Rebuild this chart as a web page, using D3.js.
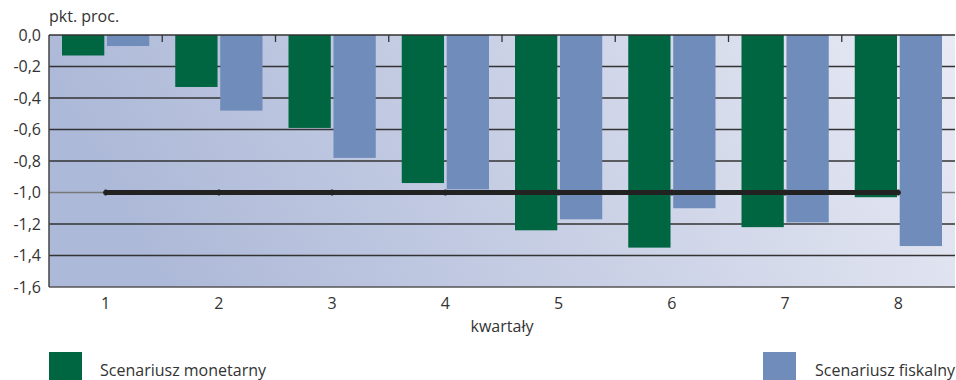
<!DOCTYPE html>
<html><head><meta charset="utf-8">
<script src="https://cdn.jsdelivr.net/npm/d3@7"></script>
<style>body{margin:0;background:#fff;} svg{display:block;font-family:"Open Sans",sans-serif;}</style>
</head><body><svg id="c" width="956" height="380"></svg>
<script>
const categories = ["1","2","3","4","5","6","7","8"];
const monetarny = [-0.13,-0.33,-0.59,-0.94,-1.24,-1.35,-1.22,-1.03];
const fiskalny  = [-0.07,-0.48,-0.78,-0.98,-1.17,-1.10,-1.19,-1.34];
const reference = [-1,-1,-1,-1,-1,-1,-1,-1];
const yTicks = [0,-0.2,-0.4,-0.6,-0.8,-1.0,-1.2,-1.4,-1.6];
const seriesNames = ["Scenariusz monetarny","Scenariusz fiskalny"];
const colors = ["#006641","#6f8cba"];

const svg = d3.select("#c");
const L=49, R=955, T=35, B=287;
const x = d3.scaleBand().domain(categories).range([L,R]).paddingInner(0).paddingOuter(0);
const x1 = d3.scaleBand().domain([0,1]).range([13, x.bandwidth()-13]).paddingInner(0.06);
const y = d3.scaleLinear().domain([-1.6,0]).range([B,T]);

const defs = svg.append("defs");
const g = defs.append("linearGradient").attr("id","bg").attr("x1","0").attr("x2","1").attr("y1","0.15").attr("y2","0");
g.append("stop").attr("offset","0").attr("stop-color","#adb9d8");
g.append("stop").attr("offset","1").attr("stop-color","#e8eaf4");
svg.append("rect").attr("x",L).attr("y",T).attr("width",R-L).attr("height",B-T).attr("fill","url(#bg)");

// gridlines
svg.append("g").selectAll("line").data(yTicks.filter(d=>d!==0 && d!==-1.6)).join("line")
  .attr("x1",L).attr("x2",R).attr("y1",d=>y(d)).attr("y2",d=>y(d))
  .attr("stroke",d=>d===-1.0?"#777":"#333").attr("stroke-width",1.3);

// bars
const series=[monetarny,fiskalny];
series.forEach((vals,si)=>{
  svg.append("g").selectAll("rect").data(vals).join("rect")
    .attr("x",(d,i)=>x(categories[i])+x1(si))
    .attr("width",x1.bandwidth())
    .attr("y",y(0))
    .attr("height",d=>y(d)-y(0))
    .attr("fill",colors[si]);
});

// axes lines
svg.append("line").attr("x1",L).attr("x2",R).attr("y1",B).attr("y2",B).attr("stroke","#555").attr("stroke-width",1.5);
svg.append("line").attr("x1",L).attr("x2",L).attr("y1",T).attr("y2",B).attr("stroke","#444").attr("stroke-width",1.5);
svg.append("line").attr("x1",L).attr("x2",R).attr("y1",T).attr("y2",T).attr("stroke","#333").attr("stroke-width",1.5);
// category boundary ticks at top
svg.append("g").selectAll("line").data(categories.slice(1)).join("line")
  .attr("x1",d=>x(d)).attr("x2",d=>x(d)).attr("y1",T).attr("y2",T+7)
  .attr("stroke","#333").attr("stroke-width",1.3);

// reference line
const line = d3.line().x((d,i)=>x(categories[i])+x.bandwidth()/2).y(d=>y(d));
svg.append("path").datum(reference).attr("d",line).attr("fill","none")
  .attr("stroke","#222").attr("stroke-width",5).attr("stroke-linecap","round");
svg.append("g").selectAll("line").data(reference).join("line")
  .attr("x1",(d,i)=>x(categories[i])+x.bandwidth()/2).attr("x2",(d,i)=>x(categories[i])+x.bandwidth()/2)
  .attr("y1",d=>y(d)-3).attr("y2",d=>y(d)+3).attr("stroke","#222").attr("stroke-width",2);

// y labels
const fmt = d=>d3.format(".1f")(d).replace(".",",").replace("−","-");
svg.append("g").selectAll("text").data(yTicks).join("text")
  .attr("x",41).attr("y",d=>y(d)).attr("dy","0.36em").attr("text-anchor","end")
  .attr("font-size",16).attr("fill","#333").text(d=>d===0?"0,0":fmt(d));
svg.append("text").attr("x",49).attr("y",22).attr("font-size",16).attr("fill","#333").text("pkt. proc.");

// x labels
svg.append("g").selectAll("text").data(categories).join("text")
  .attr("x",d=>x(d)+x.bandwidth()/2).attr("y",309).attr("text-anchor","middle")
  .attr("font-size",16).attr("fill","#333").text(d=>d);
svg.append("text").attr("x",(L+R)/2).attr("y",332).attr("text-anchor","middle")
  .attr("font-size",16).attr("fill","#333").text("kwartały");

// legend
const leg=[{x:49,tx:100},{x:763,tx:815}];
leg.forEach((l,i)=>{
  svg.append("rect").attr("x",l.x).attr("y",352).attr("width",33).attr("height",30).attr("fill",colors[i]);
  svg.append("text").attr("x",l.tx).attr("y",376).attr("font-size",16).attr("fill","#333").text(seriesNames[i]);
});
</script></body></html>
